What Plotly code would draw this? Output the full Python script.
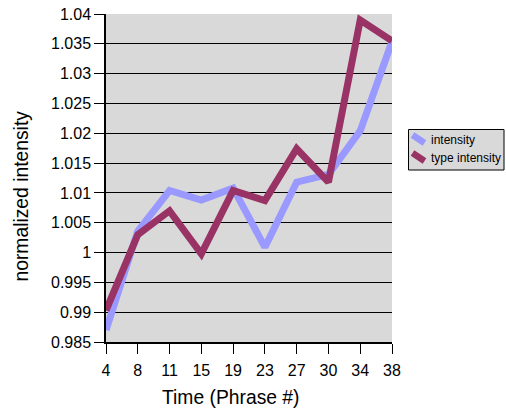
import plotly.graph_objects as go

categories = ["4", "8", "11", "15", "19", "23", "27", "30", "34", "38"]
intensity = [0.987, 1.0036, 1.0104, 1.0088, 1.0108, 1.0009, 1.0118, 1.0131, 1.0204, 1.0354]
type_intensity = [0.9903, 1.003, 1.007, 0.9998, 1.0104, 1.0087, 1.0174, 1.0118, 1.039, 1.0355]
y_ticks = [0.985, 0.99, 0.995, 1.0, 1.005, 1.01, 1.015, 1.02, 1.025, 1.03, 1.035, 1.04]
y_ticktext = ["0.985", "0.99", "0.995", "1", "1.005", "1.01", "1.015", "1.02", "1.025", "1.03", "1.035", "1.04"]
series_names = ["intensity", "type intensity"]
series_colors = ["#9999FF", "#993366"]

W, H = 506, 408
L, R, T, B = 106, 114, 14, 66
PW, PH = W - L - R, H - T - B


def px(x):
    return (x - L) / PW


def py(y):
    return (H - B - y) / PH


xi = list(range(len(categories)))

fig = go.Figure()
for name, vals, col in zip(series_names, [intensity, type_intensity], series_colors):
    fig.add_trace(go.Scatter(x=xi, y=vals, mode="lines", name=name,
                             line=dict(color=col, width=7), showlegend=False,
                             hoverinfo="skip"))

font = "Liberation Sans, Arial, sans-serif"

shapes = [dict(type="rect", xref="paper", yref="paper",
               x0=px(408.5), x1=px(504), y0=py(170), y1=py(129.5),
               fillcolor="#D9D9D9", line=dict(color="black", width=1), layer="above")]
annotations = []
for i, (name, col) in enumerate(zip(series_names, series_colors)):
    y0 = 135 + i * 18
    shapes.append(dict(type="line", xref="paper", yref="paper",
                       x0=px(412.5), y0=py(y0), x1=px(424.5), y1=py(y0 + 8),
                       line=dict(color=col, width=6.5), layer="above"))
    annotations.append(dict(text=name, xref="paper", yref="paper",
                            x=px(429), y=py(y0 + 4.5), xanchor="left", yanchor="middle",
                            showarrow=False, font=dict(size=12, family=font, color="black")))

annotations.append(dict(text="normalized intensity", xref="paper", yref="paper",
                        x=px(20.5), y=py(196), xanchor="center", yanchor="middle",
                        textangle=-90, showarrow=False,
                        font=dict(size=19.3, family=font, color="black")))
annotations.append(dict(text="Time (Phrase #)", xref="paper", yref="paper",
                        x=px(231), y=py(397), xanchor="center", yanchor="middle",
                        showarrow=False,
                        font=dict(size=19.3, family=font, color="black")))

fig.update_layout(
    width=W, height=H,
    margin=dict(l=L, r=R, t=T, b=B, pad=0, autoexpand=False),
    paper_bgcolor="white",
    plot_bgcolor="#D9D9D9",
    font=dict(family=font, color="black", size=16),
    showlegend=False,
    hovermode=False,
    shapes=shapes,
    annotations=annotations,
    xaxis=dict(
        range=[0, len(categories) - 1],
        tickmode="array", tickvals=xi, ticktext=categories,
        showgrid=False, zeroline=False, automargin=False,
        showline=True, linecolor="black", linewidth=1.5,
        ticks="outside", ticklen=10, tickcolor="black", tickwidth=1,
        ticklabelstandoff=3,
        tickfont=dict(size=16),
    ),
    yaxis=dict(
        range=[0.985, 1.04],
        tickmode="array", tickvals=y_ticks, ticktext=y_ticktext,
        showgrid=True, gridcolor="black", gridwidth=1,
        zeroline=False, automargin=False,
        showline=True, linecolor="black", linewidth=1.5,
        ticks="outside", ticklen=10, tickcolor="black", tickwidth=1,
        tickfont=dict(size=16),
    ),
)

fig.write_html("out.html", config={"displayModeBar": False},
               post_script="document.body.style.margin='0';")
